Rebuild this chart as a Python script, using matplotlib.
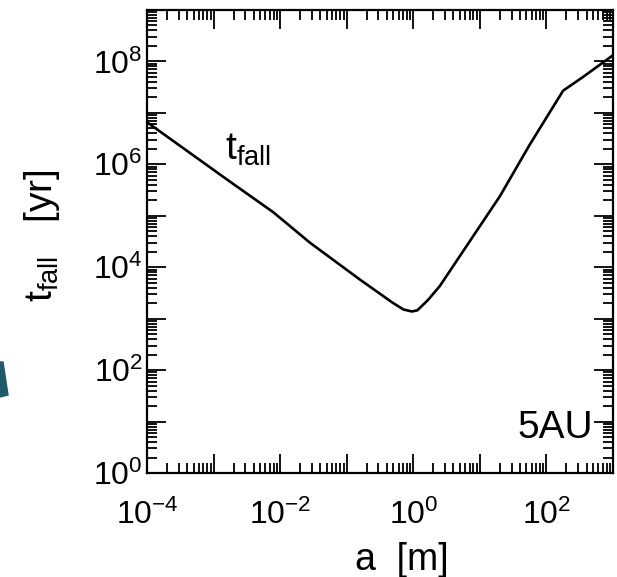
import math
import matplotlib
matplotlib.use("Agg")
import matplotlib.pyplot as plt
import matplotlib.ticker as mticker
from matplotlib.patches import Polygon

plt.rcParams['font.family'] = ['Liberation Sans', 'DejaVu Sans']
plt.rcParams['mathtext.fontset'] = 'custom'
plt.rcParams['mathtext.rm'] = 'Liberation Sans'
plt.rcParams['mathtext.it'] = 'Liberation Sans'
plt.rcParams['mathtext.default'] = 'regular'

# data
a_m = [1e-4, 1.58e-3, 7.9e-3, 2.8e-2, 0.158, 0.49, 0.71, 0.95, 1.15, 1.66,
       2.5, 6.3, 20, 56, 178, 355, 1000]
t_fall_yr = [6.6e6, 5.1e5, 1.17e5, 3.0e4, 5.75e3, 2.04e3, 1.51e3, 1.38e3, 1.45e3, 2.3e3,
             4.3e3, 2.57e4, 2.4e5, 2.4e6, 2.7e7, 5.0e7, 1.32e8]
x_decades = [-4, -3, -2, -1, 0, 1, 2, 3]
y_decades = [0, 1, 2, 3, 4, 5, 6, 7, 8, 9]
x_labelled = [-4, -2, 0, 2]
y_labelled = [0, 2, 4, 6, 8]

W, H = 617, 577
fig = plt.figure(figsize=(W / 100, H / 100), dpi=100)
ax = fig.add_axes([147 / W, 1 - 473 / H, (613 - 147) / W, (473 - 10) / H])

ax.plot(a_m, t_fall_yr, color='black', lw=1.9)
ax.set_xscale('log')
ax.set_yscale('log')
ax.set_xlim(1e-4, 1e3)
ax.set_ylim(1, 1e9)


def make_fmt(labelled):
    def f(v, p):
        d = round(math.log10(v))
        return r'$10^{%d}$' % d if d in labelled else ''
    return f


ax.xaxis.set_major_locator(mticker.FixedLocator([10.0 ** d for d in x_decades]))
ax.yaxis.set_major_locator(mticker.FixedLocator([10.0 ** d for d in y_decades]))
ax.xaxis.set_major_formatter(mticker.FuncFormatter(make_fmt(x_labelled)))
ax.yaxis.set_major_formatter(mticker.FuncFormatter(make_fmt(y_labelled)))
ax.xaxis.set_minor_locator(mticker.LogLocator(base=10, subs=range(2, 10), numticks=100))
ax.yaxis.set_minor_locator(mticker.LogLocator(base=10, subs=range(2, 10), numticks=100))
ax.xaxis.set_minor_formatter(mticker.NullFormatter())
ax.yaxis.set_minor_formatter(mticker.NullFormatter())

ax.tick_params(which='both', direction='in', top=True, right=True, width=1.3, labelsize=23, colors='black')
ax.tick_params(which='major', length=14)
ax.tick_params(which='minor', length=7)
ax.tick_params(axis='x', which='major', pad=19)
ax.tick_params(axis='y', which='major', pad=3)
for s in ax.spines.values():
    s.set_linewidth(1.6)

ax.set_xlabel('a  [m]', fontsize=27)
ax.xaxis.set_label_coords((402 - 147) / (613 - 147), -(542 - 473) / (473 - 10))
ax.set_ylabel(r'$\mathrm{t_{fall}}$   [yr]', fontsize=28)
ax.yaxis.set_label_coords(-(147 - 62) / (613 - 147), (473 - 236) / (473 - 10))

ax.text((225 - 147) / 466, (473 - 160) / 463, r'$\mathrm{t_{fall}}$', transform=ax.transAxes,
        fontsize=28, ha='left', va='baseline')
ax.text((593 - 147) / 466, (473 - 438) / 463, '5AU', transform=ax.transAxes,
        fontsize=28, ha='right', va='baseline')

# teal fragment at the left edge
poly = Polygon([(0, 1 - 362 / H), (3 / W, 1 - 362 / H), (8 / W, 1 - 395 / H), (0, 1 - 397 / H)],
               closed=True, transform=fig.transFigure, color='#1f5a6b', clip_on=False)
fig.patches.append(poly)

fig.savefig('out.png', dpi=100)
